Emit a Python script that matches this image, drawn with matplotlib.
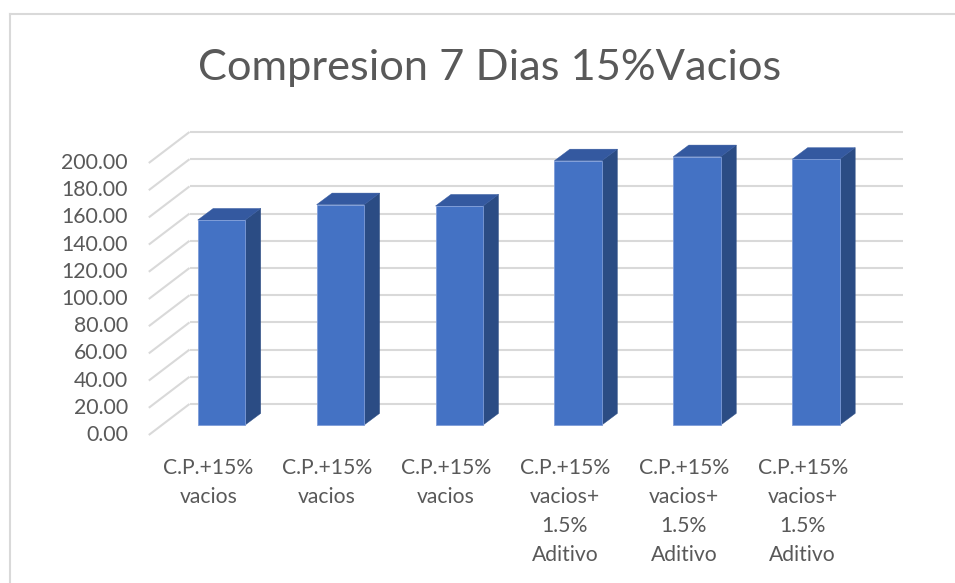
import matplotlib
matplotlib.use("Agg")
import matplotlib.pyplot as plt
from matplotlib.patches import Polygon
from matplotlib.lines import Line2D

# ---------------- data ----------------
title = "Compresion 7 Dias 15%Vacios"
categories = [
    "C.P.+15%\nvacios",
    "C.P.+15%\nvacios",
    "C.P.+15%\nvacios",
    "C.P.+15%\nvacios+\n1.5%\nAditivo",
    "C.P.+15%\nvacios+\n1.5%\nAditivo",
    "C.P.+15%\nvacios+\n1.5%\nAditivo",
]
values = [150.7, 162.0, 161.0, 194.3, 197.3, 195.4]
y_ticks = [0, 20, 40, 60, 80, 100, 120, 140, 160, 180, 200]
y_tick_labels = [f"{v:.2f}" for v in y_ticks]

# ---------------- style ----------------
FONT = ["Lato", "DejaVu Sans"]
TXT = "#595959"
GRID = "#d9d9d9"
FRONT = "#4472C4"
SIDE = "#2B4C84"
TOP = "#3459A0"

W, H = 955, 583
PX_X = 118.9     # pixels per category
PX_Y = 1.36      # pixels per value unit
X0_PIX = 221.45  # pixel x of category 0 (bar front plane)
Y0_PIX = 425.0   # pixel y of value 0 (bar front plane)

def px2dx(p):
    return p / PX_X

def px2dy(p):
    return p / PX_Y

fig = plt.figure(figsize=(W / 100, H / 100), dpi=100)
ax = fig.add_axes([0, 0, 1, 1])
ax.set_xlim((0 - X0_PIX) / PX_X, (W - X0_PIX) / PX_X)
ax.set_ylim((Y0_PIX - H) / PX_Y, Y0_PIX / PX_Y)
ax.axis("off")

# oblique depth offsets (relative to the bar front plane)
front_off = (px2dx(-13.2), px2dy(-10.0))
back_off = (px2dx(27.5), px2dy(21.0))
bar_depth = (px2dx(15.5), px2dy(11.6))
bar_w = px2dx(47.5)

n = len(values)
xl, xr = -0.5, n - 0.5

# gridlines: back wall + left side wall
for v in y_ticks:
    ax.plot([xl + back_off[0], xr + back_off[0]],
            [v + back_off[1], v + back_off[1]],
            color=GRID, lw=1.5, zorder=1, solid_capstyle="butt")
    ax.plot([xl + front_off[0], xl + back_off[0]],
            [v + front_off[1], v + back_off[1]],
            color=GRID, lw=1.5, zorder=1, solid_capstyle="butt")

# bars
xs = list(range(n))
dx, dy = bar_depth
for x, v in zip(xs, values):
    r = x + bar_w / 2
    l = x - bar_w / 2
    side = Polygon([(r, 0), (r + dx, dy), (r + dx, v + dy), (r, v)],
                   closed=True, facecolor=SIDE, edgecolor=SIDE, lw=0.3, zorder=2)
    top = Polygon([(l, v), (r, v), (r + dx, v + dy), (l + dx, v + dy)],
                  closed=True, facecolor=TOP, edgecolor=TOP, lw=0.3, zorder=2)
    ax.add_patch(side)
    ax.add_patch(top)
ax.bar(xs, values, width=bar_w, color=FRONT, edgecolor="#7E9CD8",
       linewidth=0.6, zorder=3)

# y tick labels (at the front edge of the floor)
lab_x = (128 - X0_PIX) / PX_X
for v, s in zip(y_ticks, y_tick_labels):
    ax.text(lab_x, v + front_off[1], s, ha="right", va="center",
            fontsize=15.3, color=TXT, family=FONT)

# category labels
first_line_pix = 468.0
line_step = 29.0
for x, cat in zip(xs, categories):
    for k, line in enumerate(cat.split("\n")):
        ypix = first_line_pix + k * line_step
        ax.text(x + front_off[0], (Y0_PIX - ypix) / PX_Y, line,
                ha="center", va="center", fontsize=15.2, color=TXT, family=FONT)

# title
fig.text(490 / W, 1 - 68 / H, title, ha="center", va="center",
         fontsize=31.2, color=TXT, family=FONT)

# chart-area border (top and left visible)
fig.add_artist(Line2D([10 / W, 10 / W], [0, 1 - 14 / H], color=GRID, lw=1.5))
fig.add_artist(Line2D([10 / W, 1], [1 - 14 / H, 1 - 14 / H], color=GRID, lw=1.5))

fig.savefig("out.png", dpi=100, facecolor="white")
